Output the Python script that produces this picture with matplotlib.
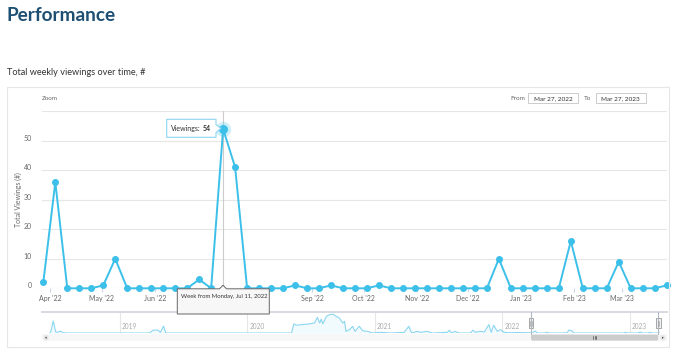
import matplotlib
matplotlib.use("Agg")
import matplotlib.pyplot as plt
import matplotlib.dates as mdates
from matplotlib.patches import Rectangle, Polygon, FancyBboxPatch, Circle
import pandas as pd

plt.rcParams['font.family'] = ['Lato', 'DejaVu Sans']

# weekly viewings, Mar 28 2022 .. Mar 27 2023
weeks = pd.date_range('2022-03-28', periods=53, freq='7D')
viewings = [2, 36, 0, 0, 0, 1, 10, 0, 0, 0,
            0, 0, 0, 3, 0, 54, 41, 0, 0, 0,
            0, 1, 0, 0, 1, 0, 0, 0, 1, 0,
            0, 0, 0, 0, 0, 0, 0, 0, 10, 0,
            0, 0, 0, 0, 16, 0, 0, 0, 9, 0,
            0, 0, 1]
hover_idx = 15
range_from, range_to = 'Mar 27, 2022', 'Mar 27, 2023'

# navigator history before the selected range (rough read-off)
nav_dates = ['2018-06-15', '2018-06-18', '2018-06-25', '2018-07-02', '2018-07-09',
             '2018-07-16', '2018-07-23', '2018-08-06', '2019-03-27', '2019-04-07',
             '2019-04-19', '2019-04-28', '2019-05-07', '2019-05-13', '2020-05-07',
             '2020-05-14', '2020-05-21', '2020-06-04', '2020-06-23', '2020-07-12',
             '2020-07-20', '2020-07-27', '2020-07-31', '2020-08-05', '2020-08-15',
             '2020-08-24', '2020-09-03', '2020-09-12', '2020-09-21', '2020-10-01',
             '2020-10-06', '2020-10-10', '2020-10-20', '2020-10-29', '2020-11-05',
             '2020-11-17', '2020-11-27', '2020-12-11', '2020-12-25', '2021-01-18',
             '2021-02-15', '2021-03-25', '2021-04-08', '2021-04-16', '2021-05-02',
             '2021-05-12', '2021-05-31', '2021-06-14', '2021-07-27', '2021-08-02',
             '2021-08-08', '2021-08-19', '2021-08-29', '2021-10-01', '2021-10-09',
             '2021-10-16', '2021-10-30', '2021-11-10', '2021-11-23', '2021-11-30',
             '2021-12-07', '2021-12-17', '2021-12-26', '2022-01-06', '2022-01-20',
             '2022-02-15', '2022-03-14']
nav_values = [0, 20, 215, 20, 15, 36, 5, 0, 0, 50,
              55, 15, 125, 0, 0, 165, 140, 150, 160, 180,
              280, 180, 250, 165, 300, 330, 340, 300, 270, 180,
              210, 30, 60, 120, 30, 120, 40, 30, 0, 12,
              0, 10, 120, 0, 30, 12, 30, 0, 12, 50,
              0, 30, 0, 0, 50, 12, 30, 18, 150, 12,
              140, 30, 60, 12, 5, 8, 5]

blue = '#3cc0e9'
W, H = 680, 353
fig = plt.figure(figsize=(W / 100, H / 100), dpi=100)


def px_axes(left, top, right, bottom):
    return fig.add_axes([left / W, 1 - bottom / H, (right - left) / W, (bottom - top) / H])


def month_label(x, pos=None):
    d = mdates.num2date(x)
    # Jul/Aug '22 sit under the crosshair label in the reference
    if d.year == 2022 and d.month in (7, 8):
        return ''
    return d.strftime("%b '%y")


# main chart
ax = px_axes(41.6, 111.2, 666.7, 288.3)
ax.axvline(weeks[hover_idx], color='#cccccc', lw=0.8, zorder=1)
ax.plot(weeks, viewings, color=blue, lw=1.4, marker='o', ms=4, clip_on=False, zorder=3)
ax.plot(weeks[hover_idx], viewings[hover_idx], 'o', ms=11, color=blue, alpha=0.25,
        mew=0, clip_on=False, zorder=4)
ax.plot(weeks[hover_idx], viewings[hover_idx], 'o', ms=5.5, color=blue, clip_on=False, zorder=5)
ax.set_xlim(pd.Timestamp('2022-03-27'), pd.Timestamp('2023-03-27'))
ax.set_ylim(0, 60)
ax.set_yticks(range(0, 61, 10))
ax.set_yticklabels([str(v) for v in range(0, 51, 10)] + [''], va='baseline')
ax.grid(axis='y', color='#e6e6e6', lw=0.8)
ax.set_axisbelow(True)
ax.xaxis.set_major_locator(mdates.MonthLocator())
ax.xaxis.set_major_formatter(plt.FuncFormatter(month_label))
ax.tick_params(axis='x', length=3, color='#ccd6eb', labelsize=5, labelcolor='#666666', pad=1.5)
ax.tick_params(axis='y', length=0, labelsize=5, labelcolor='#666666', pad=7)
for s in ax.spines.values():
    s.set_visible(False)
ax.patch.set_alpha(0)

# navigator
nav = px_axes(41.7, 313, 660, 333)
nx = list(pd.to_datetime(nav_dates)) + list(weeks)
ny = nav_values + viewings
nav.plot(nx, ny, color='#8ad6f0', lw=0.8)
nav.fill_between(nx, ny, 0, color=blue, alpha=0.07, lw=0)
nav.set_xlim(pd.Timestamp('2018-05-23'), pd.Timestamp('2023-03-28'))
nav.set_ylim(0, 360)
for yr in range(2019, 2024):
    t = pd.Timestamp(f'{yr}-01-01')
    nav.axvline(t, color='#e6e6e6', lw=0.8, zorder=0)
    nav.annotate(str(yr), (t, 0), xytext=(1.5, 2.5), textcoords='offset points',
                 fontsize=4.7, color='#aaaaaa', va='bottom')
nav.axis('off')

# overlay in pixel coordinates for page chrome
ov = fig.add_axes([0, 0, 1, 1])
ov.set_xlim(0, W)
ov.set_ylim(H, 0)
ov.axis('off')
ov.patch.set_alpha(0)

ov.text(6.7, 20.7, 'Performance', fontsize=13.7, fontweight='bold', color='#1d4f73', va='baseline')
ov.text(6.7, 75, 'Total weekly viewings over time, #', fontsize=6.6, color='#333333', va='baseline')
ov.add_patch(Rectangle((6.5, 86.5), 662.5, 260.5, fill=False, ec='#e6e6e6', lw=0.8))
ov.text(42, 100.5, 'Zoom', fontsize=4.5, color='#666666', va='baseline')

ov.text(510, 100.3, 'From', fontsize=4.6, color='#666666', va='baseline')
ov.add_patch(Rectangle((528.3, 92.7), 49.4, 10.6, fill=False, ec='#cccccc', lw=0.7))
ov.text(553, 100.3, range_from, fontsize=4.6, color='#333333', ha='center', va='baseline')
ov.text(584.3, 100.3, 'To', fontsize=4.6, color='#666666', va='baseline')
ov.add_patch(Rectangle((596, 92.7), 49.7, 10.6, fill=False, ec='#cccccc', lw=0.7))
ov.text(620.8, 100.3, range_to, fontsize=4.6, color='#333333', ha='center', va='baseline')

ov.text(18, 199.7, 'Total Viewings (#)', fontsize=5, color='#666666', rotation=90,
        ha='center', va='center')

# point tooltip
ov.add_patch(Polygon([(166.7, 119.3), (216, 119.3), (216, 124.5), (221, 128.5), (216, 132.5),
                      (216, 137.3), (166.7, 137.3)], closed=True, fc='white', ec='#86d2ef',
                     lw=0.8, alpha=0.95))
ov.text(170.7, 128.3, 'Viewings:', fontsize=5, color='#333333', va='center')
ov.text(202.5, 128.3, str(viewings[hover_idx]), fontsize=5, color='#333333',
        fontweight='bold', va='center')

# x-axis crosshair label
ov.add_patch(Polygon([(177.3, 288.8), (219.5, 288.8), (223, 285.2), (226.5, 288.8), (269.3, 288.8),
                      (269.3, 314), (177.3, 314)], closed=True, fc='#f7f7f7', ec='#666666', lw=0.7,
                     zorder=5))
ov.text(181, 296.7, 'Week from Monday, ' + weeks[hover_idx].strftime('%b %d, %Y'),
        fontsize=4.2, color='#333333', va='center', zorder=6)

# navigator outline, handles and scrollbar
ov.plot([41.7, 666.7], [312.3, 312.3], color='#cfd3da', lw=1.2, zorder=2)
ov.add_patch(Rectangle((41.7, 334.3), 625, 6.7, fc='#f7f7f7', ec='none'))
ov.add_patch(FancyBboxPatch((531, 334.6), 127.3, 6, boxstyle='round,pad=0,rounding_size=2',
                            fc='#cccccc', ec='none'))
for gx in (593.3, 594.8, 596.3):
    ov.plot([gx, gx], [336.3, 339.3], color='#333333', lw=0.4)
for hx in (531, 658.3):
    ov.plot([hx, hx], [312.3, 334.3], color='#b0b8c4', lw=0.8)
    ov.add_patch(Rectangle((hx - 2.3, 318.3), 4.6, 9.4, fc='#f2f2f2', ec='#999999', lw=0.6))
    ov.plot([hx - 0.6, hx - 0.6], [320.5, 325.5], color='#999999', lw=0.4)
    ov.plot([hx + 0.6, hx + 0.6], [320.5, 325.5], color='#999999', lw=0.4)
for cx, sgn in ((46, -1), (662.7, 1)):
    ov.add_patch(Circle((cx, 337.7), 2.7, fc='#e6e6e6', ec='none'))
    ov.add_patch(Polygon([(cx + sgn * 1.0, 337.7), (cx - sgn * 0.6, 336.6), (cx - sgn * 0.6, 338.8)],
                         closed=True, fc='#333333', ec='none'))

fig.savefig('out.png', dpi=100)
